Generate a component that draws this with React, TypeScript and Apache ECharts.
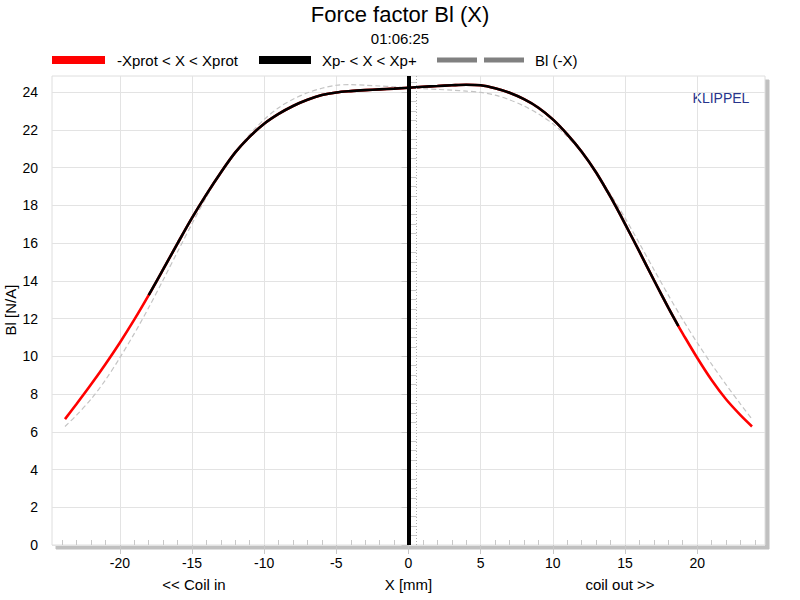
import React, { useEffect, useRef } from "react";
import * as echarts from "echarts";

// Displacement X [mm] and force factor Bl [N/A]
const X_MM = [-23.8, -23, -22, -21, -20, -19, -18, -17, -16, -15, -14, -13, -12, -11, -10, -9, -8, -7, -6, -5, -4, -3, -2, -1, 0, 1, 2, 3, 4, 5, 6, 7, 8, 9, 10, 11, 12, 13, 14, 15, 16, 17, 18, 18.7, 19, 20, 21, 22, 23, 23.8];
const BL = [6.67, 7.47, 8.5, 9.58, 10.72, 11.94, 13.24, 14.6, 15.98, 17.33, 18.58, 19.74, 20.8, 21.64, 22.32, 22.84, 23.26, 23.59, 23.84, 23.98, 24.05, 24.1, 24.14, 24.18, 24.23, 24.28, 24.32, 24.36, 24.39, 24.36, 24.2, 23.96, 23.62, 23.17, 22.55, 21.76, 20.84, 19.74, 18.44, 17.02, 15.54, 14.04, 12.58, 11.6, 11.2, 9.92, 8.74, 7.72, 6.88, 6.28];

// Limits of the Xp- < X < Xp+ range
const XP_MINUS = -18;
const XP_PLUS = 18.7;
// Vertical markers
const ZERO_X = 0;
const REST_X = 0.53;

// Axis ranges and ticks
const X_MIN = -24.7;
const X_MAX = 24.7;
const Y_MIN = 0;
const Y_MAX = 24.85;
const X_MAJOR = [-20, -15, -10, -5, 0, 5, 10, 15, 20];
const X_MINOR = [-24, -23, -22, -21, -19, -18, -17, -16, -14, -13, -12, -11, -9, -8, -7, -6, -4, -3, -2, -1, 1, 2, 3, 4, 6, 7, 8, 9, 11, 12, 13, 14, 16, 17, 18, 19, 21, 22, 23, 24];
const Y_MAJOR = [0, 2, 4, 6, 8, 10, 12, 14, 16, 18, 20, 22, 24];
const Y_MINOR = [0.5, 1, 1.5, 2.5, 3, 3.5, 4.5, 5, 5.5, 6.5, 7, 7.5, 8.5, 9, 9.5, 10.5, 11, 11.5, 12.5, 13, 13.5, 14.5, 15, 15.5, 16.5, 17, 17.5, 18.5, 19, 19.5, 20.5, 21, 21.5, 22.5, 23, 23.5, 24.5];

const TITLE = "Force factor Bl (X)";
const SUBTITLE = "01:06:25";
const LEGEND_RED = "-Xprot < X < Xprot";
const LEGEND_BLACK = "Xp- < X < Xp+";
const LEGEND_GRAY = "Bl (-X)";
const Y_NAME = "Bl [N/A]";

const FONT = "'Liberation Sans', Arial, sans-serif";

export default function App() {
  const ref = useRef<HTMLDivElement>(null);

  useEffect(() => {
    if (!ref.current) return;
    const chart = echarts.init(ref.current, undefined, { renderer: "svg" });

    const full = X_MM.map((x, i) => [x, BL[i]]);
    const mid = full.filter((p) => p[0] >= XP_MINUS && p[0] <= XP_PLUS);
    const mirror = X_MM.map((x, i) => [-x, BL[i]]).reverse();

    const gridColor = "#e3e3e3";
    const tickColor = "#c8c8c8";

    const option: any = {
      animation: false,
      backgroundColor: "#fff",
      textStyle: { fontFamily: FONT },
      grid: {
        left: 52,
        top: 76,
        width: 713,
        height: 469,
        containLabel: false,
        outerBoundsMode: "none",
        show: true,
        backgroundColor: "#fff",
        borderColor: "#dedede",
        borderWidth: 1,
        shadowColor: "#c0c0c0",
        shadowOffsetX: 4,
        shadowOffsetY: 4,
        shadowBlur: 0,
      },
      xAxis: [
        {
          type: "value",
          min: X_MIN,
          max: X_MAX,
          position: "bottom",
          name: "X [mm]",
          nameLocation: "middle",
          nameGap: 32,
          nameTextStyle: { fontSize: 15, color: "#000", fontFamily: FONT },
          axisLine: { show: false },
          axisTick: { show: true, customValues: X_MAJOR, length: 9, lineStyle: { color: tickColor } },
          axisLabel: { customValues: X_MAJOR, fontSize: 14, color: "#000", margin: 11, fontFamily: FONT },
          splitLine: { show: true, lineStyle: { color: gridColor, width: 1 } },
        },
        {
          type: "value",
          min: X_MIN,
          max: X_MAX,
          position: "bottom",
          axisLine: { show: false },
          axisLabel: { show: false },
          splitLine: { show: false },
          axisTick: { show: true, inside: true, customValues: X_MINOR, length: 5, lineStyle: { color: tickColor } },
        },
      ],
      yAxis: [
        {
          type: "value",
          min: Y_MIN,
          max: Y_MAX,
          position: "left",
          axisLine: { show: false },
          axisTick: { show: true, customValues: Y_MAJOR, length: 7, lineStyle: { color: tickColor } },
          axisLabel: { customValues: Y_MAJOR, fontSize: 14, color: "#000", margin: 14, fontFamily: FONT },
          splitLine: { show: true, lineStyle: { color: gridColor, width: 1 } },
        },
        {
          type: "value",
          min: Y_MIN,
          max: Y_MAX,
          position: "left",
          axisLine: { show: false },
          axisLabel: { show: false },
          splitLine: { show: false },
          axisTick: { show: true, inside: true, customValues: Y_MINOR, length: 8, lineStyle: { color: tickColor } },
        },
      ],
      series: [
        {
          name: LEGEND_GRAY,
          type: "line",
          data: mirror,
          showSymbol: false,
          smooth: 0.3,
          lineStyle: { color: "#c4c4c4", width: 1.2, type: [5, 3] },
          z: 2,
        },
        {
          name: LEGEND_RED,
          type: "line",
          data: full,
          showSymbol: false,
          smooth: 0.3,
          lineStyle: { color: "#ff0000", width: 2.6 },
          z: 3,
        },
        {
          name: LEGEND_BLACK,
          type: "line",
          data: mid,
          showSymbol: false,
          smooth: 0.3,
          lineStyle: { color: "#000000", width: 2.6 },
          z: 4,
          markLine: {
            silent: true,
            symbol: ["none", "none"],
            label: { show: false },
            data: [
              { xAxis: REST_X, lineStyle: { color: "#b0b0b0", width: 1, type: [1, 2] } },
              { xAxis: ZERO_X, lineStyle: { color: "#000", width: 4, type: "solid" } },
            ],
          },
        },
      ],
      graphic: [
        { type: "text", x: 400, y: 14, style: { text: TITLE, fontSize: 22, fill: "#000", align: "center", verticalAlign: "middle", fontFamily: FONT } },
        { type: "text", x: 400, y: 38, style: { text: SUBTITLE, fontSize: 15, fill: "#000", align: "center", verticalAlign: "middle", fontFamily: FONT } },
        { type: "rect", shape: { x: 52, y: 56, width: 53, height: 8 }, style: { fill: "#ff0000" } },
        { type: "text", x: 117, y: 60, style: { text: LEGEND_RED, fontSize: 15, fill: "#000", verticalAlign: "middle", fontFamily: FONT } },
        { type: "rect", shape: { x: 259, y: 56, width: 52, height: 8 }, style: { fill: "#000" } },
        { type: "text", x: 322, y: 60, style: { text: LEGEND_BLACK, fontSize: 15, fill: "#000", verticalAlign: "middle", fontFamily: FONT } },
        { type: "rect", shape: { x: 437, y: 57.5, width: 40, height: 5 }, style: { fill: "#808080" } },
        { type: "rect", shape: { x: 484, y: 57.5, width: 40, height: 5 }, style: { fill: "#808080" } },
        { type: "text", x: 535, y: 60, style: { text: LEGEND_GRAY, fontSize: 15, fill: "#000", verticalAlign: "middle", fontFamily: FONT } },
        { type: "text", x: 721, y: 98, style: { text: "KLIPPEL", fontSize: 14, fill: "#27348b", align: "center", verticalAlign: "middle", fontFamily: FONT } },
        { type: "text", x: 10, y: 310, rotation: Math.PI / 2, style: { text: Y_NAME, fontSize: 15, fill: "#000", align: "center", verticalAlign: "middle", fontFamily: FONT } },
        { type: "text", x: 194, y: 584, style: { text: "<< Coil in", fontSize: 15, fill: "#000", align: "center", verticalAlign: "middle", fontFamily: FONT } },
        { type: "text", x: 620, y: 584, style: { text: "coil out >>", fontSize: 15, fill: "#000", align: "center", verticalAlign: "middle", fontFamily: FONT } },
      ],
    };

    chart.setOption(option);
    return () => chart.dispose();
  }, []);

  return <div ref={ref} style={{ width: 800, height: 600, position: "absolute", left: 0, top: 0 }} />;
}
